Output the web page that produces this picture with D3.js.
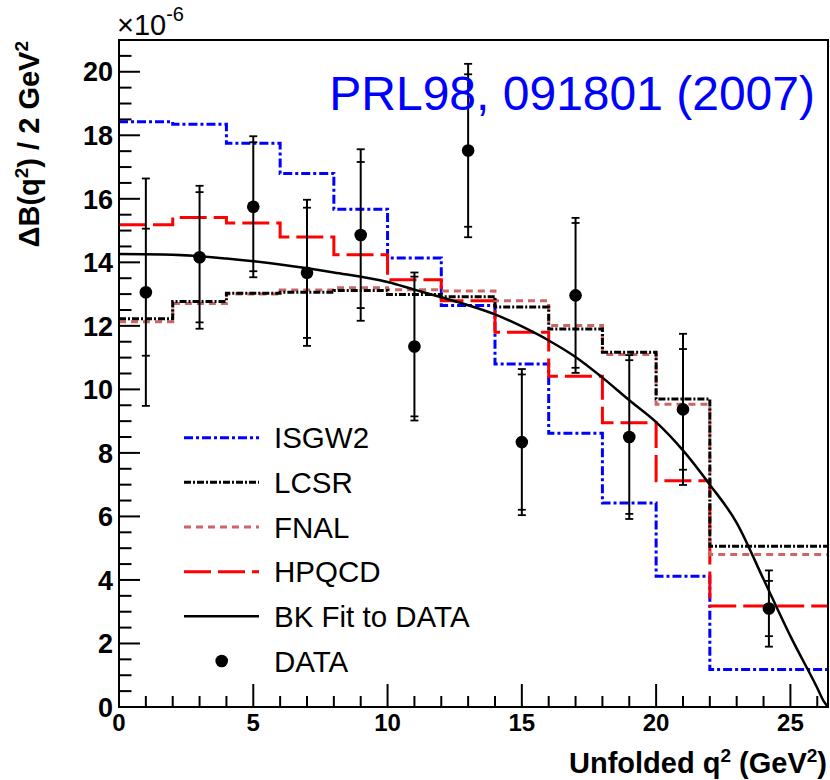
<!DOCTYPE html>
<html>
<head>
<meta charset="utf-8">
<script src="https://cdn.jsdelivr.net/npm/d3@7"></script>
<style>
  body { margin: 0; background: #fff; }
  svg { font-family: "Liberation Sans", Arial, Helvetica, sans-serif; }
</style>
</head>
<body>
<svg width="830" height="780"></svg>
<script>
// bin edges in q^2 (GeV^2), last bin runs to q^2 max
const edges = [0, 2, 4, 6, 8, 10, 12, 14, 16, 18, 20, 22, 26.4];

// model predictions per bin (x 1e-6)
const isgw2 = [18.43, 18.35, 17.75, 16.8, 15.67, 14.14, 12.64, 10.8, 8.62, 6.42, 4.12, 1.18];
const lcsr  = [12.22, 12.77, 13.03, 13.06, 13.11, 12.99, 12.92, 12.59, 11.9, 11.17, 9.7, 5.06];
const fnal  = [12.13, 12.7, 13.0, 13.13, 13.2, 13.14, 13.1, 12.79, 12.01, 11.1, 9.53, 4.8];
const hpqcd = [15.18, 15.41, 15.24, 14.8, 14.24, 13.45, 12.79, 11.8, 10.41, 8.95, 7.12, 3.18];

// data points: centre, value, inner (stat) error, outer (total) error
const dataQ   = [1, 3, 5, 7, 9, 11, 13, 15, 17, 19, 21, 24.2];
const dataVal = [13.06, 14.16, 15.75, 13.67, 14.86, 11.35, 17.52, 8.34, 12.96, 8.5, 9.37, 3.1];
const dataErrIn  = [2.0, 2.05, 2.03, 2.05, 2.3, 2.2, 2.4, 2.13, 2.28, 2.42, 1.9, 0.87];
const dataErrTot = [3.58, 2.25, 2.22, 2.3, 2.7, 2.33, 2.73, 2.3, 2.44, 2.58, 2.38, 1.2];

// BK fit curve
const fitQ = [0, 2, 4, 6, 8, 10, 11, 12, 13, 14, 15, 16, 17, 18, 19, 20, 21, 22, 23, 24, 25, 26, 26.25, 26.4];
const fitB = [14.26, 14.24, 14.12, 13.93, 13.68, 13.38, 13.14, 12.9, 12.65, 12.36, 11.98, 11.54, 11.02, 10.37, 9.66, 8.97, 8.08, 7.0, 5.8, 4.02, 2.23, 0.6, 0.17, 0];

const xTicks = [0, 5, 10, 15, 20, 25];
const yTicks = [0, 2, 4, 6, 8, 10, 12, 14, 16, 18, 20];

const legendNames = ["ISGW2", "LCSR", "FNAL", "HPQCD", "BK Fit to DATA", "DATA"];

let svg = d3.select("svg");
let pLeft = 119, pRight = 828, pTop = 40, pBottom = 707;

let x = d3.scaleLinear().domain([0, 26.4]).range([pLeft, pRight]);
let y = d3.scaleLinear().domain([0, 21]).range([pBottom, pTop]);

// line styles for the models
let styles = {
  ISGW2: { color: "#0000ff", dash: "9,3,3,3", width: 3 },
  LCSR:  { color: "#000000", dash: "7,2,2,2", width: 3 },
  FNAL:  { color: "#cc6666", dash: "7,5", width: 3 },
  HPQCD: { color: "#ff0000", dash: "27,7", width: 3 },
  FIT:   { color: "#000000", dash: null, width: 2.5 }
};

let g = svg.append("g");

g.append("clipPath").attr("id", "clip")
  .append("rect")
  .attr("x", pLeft).attr("y", pTop)
  .attr("width", pRight - pLeft).attr("height", pBottom - pTop);

let plot = g.append("g").attr("clip-path", "url(#clip)");

let step = d3.line()
  .x(d => x(d[0]))
  .y(d => y(d[1]))
  .curve(d3.curveStepAfter);

function histPoints(vals) {
  let pts = vals.map((v, i) => [edges[i], v]);
  pts.push([edges[edges.length - 1], vals[vals.length - 1]]);
  return pts;
}

// draw order: ISGW2, HPQCD, FNAL, LCSR
[["ISGW2", isgw2], ["HPQCD", hpqcd], ["FNAL", fnal], ["LCSR", lcsr]].forEach(([name, vals]) => {
  let s = styles[name];
  plot.append("path")
    .attr("d", step(histPoints(vals)))
    .attr("fill", "none")
    .attr("stroke", s.color)
    .attr("stroke-width", s.width)
    .attr("stroke-dasharray", s.dash);
});

// fit curve
let curvy = d3.line()
  .x((d, i) => x(fitQ[i]))
  .y(d => y(d))
  .curve(d3.curveMonotoneX);

plot.append("path")
  .attr("d", curvy(fitB))
  .attr("fill", "none")
  .attr("stroke", styles.FIT.color)
  .attr("stroke-width", styles.FIT.width);

// data with error bars
let pts = dataQ.map((q, i) => ({ q: q, v: dataVal[i], e1: dataErrIn[i], e2: dataErrTot[i] }));

let pt = plot.append("g").selectAll("g")
  .data(pts)
  .enter().append("g");

pt.append("line")
  .attr("x1", d => x(d.q)).attr("x2", d => x(d.q))
  .attr("y1", d => y(d.v - d.e2)).attr("y2", d => y(d.v + d.e2))
  .attr("stroke", "#000").attr("stroke-width", 2);

// caps at inner and outer error ends
["e1", "e2"].forEach(k => {
  [-1, 1].forEach(sgn => {
    pt.append("line")
      .attr("x1", d => x(d.q) - 4).attr("x2", d => x(d.q) + 4)
      .attr("y1", d => y(d.v + sgn * d[k])).attr("y2", d => y(d.v + sgn * d[k]))
      .attr("stroke", "#000").attr("stroke-width", 1.8);
  });
});

pt.append("circle")
  .attr("cx", d => x(d.q))
  .attr("cy", d => y(d.v))
  .attr("r", 6.3)
  .attr("fill", "#000");

// axes: ticks pointing inward
let axes = g.append("g").attr("stroke", "#000");

// x ticks
d3.range(0, 27, 1).forEach(t => {
  let major = t % 5 === 0;
  axes.append("line")
    .attr("x1", x(t)).attr("x2", x(t))
    .attr("y1", pBottom).attr("y2", pBottom - (major ? 23 : 11))
    .attr("stroke-width", 2);
});
// y ticks
d3.range(0, 21.01, 0.5).forEach(t => {
  let major = Math.abs(t % 2) < 1e-6;
  axes.append("line")
    .attr("x1", pLeft).attr("x2", pLeft + (major ? 21 : 12.5))
    .attr("y1", y(t)).attr("y2", y(t))
    .attr("stroke-width", 2);
});

// frame
g.append("rect")
  .attr("x", pLeft).attr("y", pTop)
  .attr("width", pRight - pLeft).attr("height", pBottom - pTop)
  .attr("fill", "none")
  .attr("stroke", "#000")
  .attr("stroke-width", 2);

// tick labels
g.append("g").selectAll("text")
  .data(xTicks)
  .enter().append("text")
  .attr("x", d => x(d))
  .attr("y", 731)
  .attr("text-anchor", "middle")
  .attr("font-size", 24)
  .attr("font-weight", "bold")
  .text(d => d);

g.append("g").selectAll("text")
  .data(yTicks)
  .enter().append("text")
  .attr("x", 113)
  .attr("y", d => y(d))
  .attr("dy", "0.36em")
  .attr("text-anchor", "end")
  .attr("font-size", 27)
  .attr("font-weight", "bold")
  .text(d => d);

// exponent
let expo = g.append("text")
  .attr("x", 117)
  .attr("y", 35)
  .attr("font-size", 29);
expo.append("tspan").text("\u00d710");
expo.append("tspan").attr("font-size", 20).attr("dy", -14).text("-6");

// axis titles
let ylab = g.append("text")
  .attr("transform", "translate(39, 41) rotate(-90)")
  .attr("text-anchor", "end")
  .attr("font-size", 29)
  .attr("font-weight", "bold");
ylab.append("tspan").text("\u0394B(q");
ylab.append("tspan").attr("font-size", 19).attr("dy", -11).text("2");
ylab.append("tspan").attr("dy", 11).text(") / 2 GeV");
ylab.append("tspan").attr("font-size", 19).attr("dy", -11).text("2");

let xlab = g.append("text")
  .attr("x", 827)
  .attr("y", 773)
  .attr("text-anchor", "end")
  .attr("font-size", 29)
  .attr("font-weight", "bold");
xlab.append("tspan").text("Unfolded q");
xlab.append("tspan").attr("font-size", 19).attr("dy", -11).text("2");
xlab.append("tspan").attr("dy", 11).text(" (GeV");
xlab.append("tspan").attr("font-size", 19).attr("dy", -11).text("2");
xlab.append("tspan").attr("dy", 11).text(")");

// publication reference
g.append("text")
  .attr("x", 815)
  .attr("y", 110)
  .attr("text-anchor", "end")
  .attr("font-size", 48)
  .attr("fill", "#0000ff")
  .text("PRL98, 091801 (2007)");

// legend
let legendY = d3.scalePoint().domain(legendNames).range([437.7, 661]);
let legendKeys = ["ISGW2", "LCSR", "FNAL", "HPQCD", "FIT", null];
let leg = g.append("g");

legendNames.forEach((name, i) => {
  let ly = legendY(name);
  let key = legendKeys[i];
  if (key) {
    let s = styles[key];
    leg.append("line")
      .attr("x1", 184).attr("x2", 259)
      .attr("y1", ly).attr("y2", ly)
      .attr("stroke", s.color)
      .attr("stroke-width", s.width)
      .attr("stroke-dasharray", s.dash);
  } else {
    leg.append("circle")
      .attr("cx", 221.7).attr("cy", ly)
      .attr("r", 6.3).attr("fill", "#000");
  }
  leg.append("text")
    .attr("x", 274)
    .attr("y", ly)
    .attr("dy", "0.36em")
    .attr("font-size", 29.5)
    .text(name);
});
</script>
</body>
</html>
